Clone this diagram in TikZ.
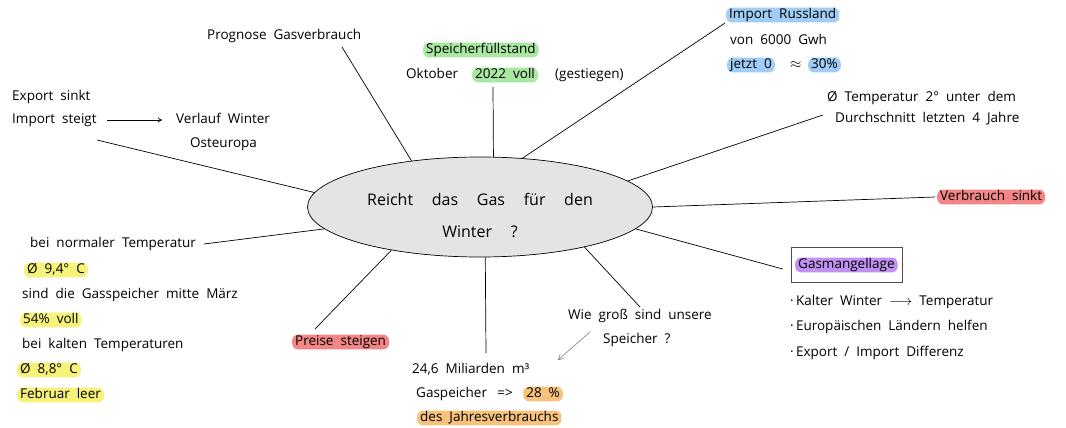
\documentclass[tikz,border=0pt]{standalone}
\usepackage{fontspec}
\setmainfont{Open Sans}[WordSpace=2]
\newfontfamily\widefont{Open Sans}[WordSpace=4.5]
\usetikzlibrary{shapes.geometric,fit,arrows.meta}
\definecolor{hgreen}{HTML}{A8E8A0}
\definecolor{hblue}{HTML}{A0CDF5}
\definecolor{hred}{HTML}{F28585}
\definecolor{hpurple}{HTML}{C290F0}
\definecolor{hyellow}{HTML}{F7F27A}
\definecolor{horange}{HTML}{F7C27C}
\definecolor{ellfill}{HTML}{E4E4E4}
\begin{document}
\begin{tikzpicture}[x=1pt,y=-1pt,
  every node/.style={font=\fontsize{13.5}{16}\selectfont},
  txt/.style={anchor=west, inner sep=0pt, text height=9.5pt, text depth=3pt},
  hl/.style={txt, fill=#1, rounded corners=6pt, inner xsep=3pt, inner ysep=1.2pt},
  link/.style={line width=0.7pt, black},
  arr/.style={line width=0.7pt, -{To[length=4pt,width=5pt]}},
  grayarr/.style={line width=0.6pt, gray, -{Straight Barb[length=5pt,width=6pt]}},
  boxst/.style={draw=black!70, line width=0.5pt, inner xsep=4pt, inner ysep=10pt}
]
\useasboundingbox (0,0) rectangle (1066,428);
% central ellipse
\node[ellipse, draw, line width=0.7pt, fill=ellfill, minimum width=345pt, minimum height=100pt, inner sep=0pt] (c) at (480,207) {};
\node[align=center, font=\widefont\fontsize{16}{19}\selectfont, inner sep=0pt] (ct) at (480,215) {Reicht das Gas für den\\[13pt]Winter ?};

% upper left
\node[txt] (exp1) at (12,97) {Export sinkt};
\node[txt] (exp2) at (12,120) {Import steigt};
\node[txt] (verl) at (176,120) {Verlauf Winter};
\node[txt] (oste) at (190,144) {Osteuropa};
\draw[arr] ([xshift=10pt]exp2.east) -- ([xshift=-14pt]verl.west);
\coordinate (eA) at (97,140);
\draw[link] (eA) -- (c.175.2);

% Prognose
\node[txt] (prog) at (207,36) {Prognose Gasverbrauch};
\coordinate (eB) at (342,47);
\draw[link] (eB) -- (c.146.1);

% Speicherfuellstand
\node[hl=hgreen] (spf) at (423,50) {Speicherfüllstand};
\node[txt] (okt) at (406,75) {Oktober};
\node[hl=hgreen] (j22) at (472,75) {2022 voll};
\node[txt] (gest) at (555,75) {(gestiegen)};
\coordinate (eC) at (493,87);
\draw[link] (eC) -- (c.75.4);

% Import Russland
\node[hl=hblue] (imru) at (726,15) {Import Russland};
\node[txt] (von) at (730,41) {von 6000 Gwh};
\node[hl=hblue] (jetzt) at (727,65) {jetzt 0};
\node[txt] (approx) at (790,65) {$\approx$};
\node[hl=hblue] (p30) at (808,65) {30\%};
\coordinate (eD) at (725,23);
\draw[link] (eD) -- (c.49.3);

% Temperatur
\node[txt] (tmp1) at (827,98) {Ø Temperatur 2° unter dem};
\node[txt] (tmp2) at (835,119) {Durchschnitt letzten 4 Jahre};
\coordinate (eE) at (823,115);
\draw[link] (eE) -- (c.10.4);

% Verbrauch sinkt
\node[hl=hred] (verb) at (937,197) {Verbrauch sinkt};
\draw[link] (c.0.3) -- ([xshift=-2pt]verb.west);

% Gasmangellage
\node[hl=hpurple] (gm) at (795,265) {Gasmangellage};
\node[boxst, fit=(gm)] (gmbox) {};
\draw[link] (c.-8.4) -- ([xshift=-8pt,yshift=-4pt]gmbox.west);
\node[txt] (b1) at (790,302) {·\,Kalter Winter $\longrightarrow$ Temperatur};
\node[txt] (b2) at (790,327) {·\,Europäischen Ländern helfen};
\node[txt] (b3) at (790,353) {·\,Export / Import Differenz};

% Wie gross
\node[txt] (wie1) at (568,316) {Wie groß sind unsere};
\node[txt] (wie2) at (603,340) {Speicher ?};
\coordinate (eF) at (640,307);
\draw[link] (eF) -- (c.-21);
\coordinate (ga1) at (590,332);
\coordinate (ga2) at (558,360);
\draw[grayarr] (ga1) -- (ga2);

% 24,6 Miliarden
\node[txt] (m1) at (412,370) {24,6 Miliarden m³};
\node[txt] (m2) at (416,394) {Gaspeicher};
\node[txt] (m2b) at ([xshift=10pt]m2.east) {=>};
\node[hl=horange] (p28) at ([xshift=10pt]m2b.east) {28 \%};
\node[hl=horange] (m3) at (417,418) {des Jahresverbrauchs};
\coordinate (eG) at (486,353);
\draw[link] (eG) -- (c.-84.3);

% Preise steigen
\node[hl=hred] (preis) at (292,342) {Preise steigen};
\coordinate (eH) at (315,329);
\draw[link] (eH) -- (c.206);

% left lower block
\node[txt] (L1) at (30,244) {bei normaler Temperatur};
\node[hl=hyellow] (L2) at (24,270) {Ø 9,4° C};
\node[txt] (L3) at (22,295) {sind die Gasspeicher mitte März};
\node[hl=hyellow] (L4) at (20,320) {54\% voll};
\node[txt] (L5) at (22,345) {bei kalten Temperaturen};
\node[hl=hyellow] (L6) at (17,370) {Ø 8,8° C};
\node[hl=hyellow] (L7) at (17,395) {Februar leer};
\draw[link] ([xshift=8pt]L1.east) -- (c.188);
\end{tikzpicture}
\end{document}
